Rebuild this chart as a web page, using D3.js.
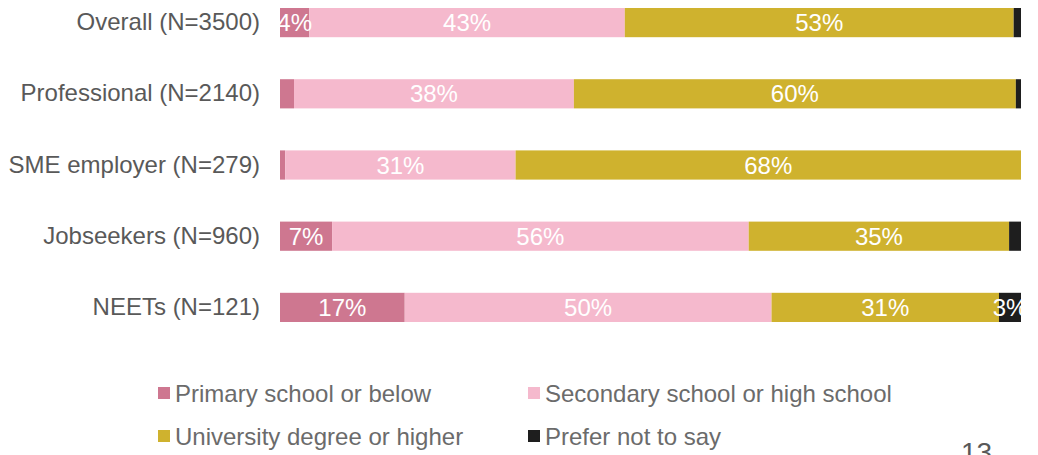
<!DOCTYPE html>
<html>
<head>
<meta charset="utf-8">
<script src="https://cdn.jsdelivr.net/npm/d3@7/dist/d3.min.js"></script>
<style>
  html, body { margin: 0; padding: 0; background: #fff; overflow: hidden; }
  svg { display: block; font-family: "Liberation Sans", Arial, sans-serif; }
</style>
</head>
<body>
<svg id="chart" width="1038" height="455"></svg>
<script>
// Education level by respondent group (share of each group, %)
const groups = ["Overall (N=3500)", "Professional (N=2140)", "SME employer (N=279)", "Jobseekers (N=960)", "NEETs (N=121)"];
const levels = ["Primary school or below", "Secondary school or high school", "University degree or higher", "Prefer not to say"];
const primary   = [4, 1.9, 0.7, 7, 17];
const secondary = [43, 38, 31, 56, 50];
const university = [53, 60, 68, 35, 31];
const preferNot = [1, 0.7, 0, 1.6, 3];
const colors = ["#CE7790", "#F5B9CD", "#CFB22E", "#1E1E1E"];

const rows = groups.map((g, i) => ({
  group: g,
  [levels[0]]: primary[i],
  [levels[1]]: secondary[i],
  [levels[2]]: university[i],
  [levels[3]]: preferNot[i]
}));

const svg = d3.select("#chart");
const margin = { left: 280, right: 17 };
const W = 1038;

const x = d3.scaleLinear().domain([0, 1]).range([margin.left, W - margin.right]);
const y = d3.scaleBand().domain(groups).range([-13, 343]).paddingInner(0.59).paddingOuter(0.295);

const color = d3.scaleOrdinal().domain(levels).range(colors);

const stacked = d3.stack().keys(levels).offset(d3.stackOffsetExpand)(rows);

// keep segment labels inside the plotting area
svg.append("defs").append("clipPath").attr("id", "plot-clip")
  .append("rect")
  .attr("x", x(0)).attr("y", 0)
  .attr("width", x(1) - x(0)).attr("height", 360);

const layer = svg.append("g").selectAll("g")
  .data(stacked).join("g")
  .attr("fill", d => color(d.key));

layer.selectAll("rect")
  .data(d => d.map(p => ({ p, key: d.key })))
  .join("rect")
  .attr("x", d => x(d.p[0]))
  .attr("y", d => y(d.p.data.group))
  .attr("width", d => Math.max(0, x(d.p[1]) - x(d.p[0])))
  .attr("height", y.bandwidth());

// value labels for segments of 3% or more
const labels = svg.append("g").attr("clip-path", "url(#plot-clip)");
stacked.forEach(series => {
  labels.selectAll(null)
    .data(series.filter(p => p.data[series.key] >= 3))
    .join("text")
    .attr("x", p => (x(p[0]) + x(p[1])) / 2)
    .attr("y", p => y(p.data.group) + y.bandwidth() / 2)
    .attr("dy", "0.36em")
    .attr("text-anchor", "middle")
    .attr("fill", "#fff")
    .attr("font-size", 24)
    .text(p => d3.format(".0f")(p.data[series.key]) + "%");
});

// category axis
const yAxis = d3.axisLeft(y).tickSize(0).tickPadding(20);
svg.append("g")
  .attr("transform", `translate(${margin.left},0)`)
  .call(yAxis)
  .call(g => g.select(".domain").remove())
  .call(g => g.selectAll("text")
    .attr("font-size", 24)
    .attr("font-family", "'Liberation Sans', Arial, sans-serif")
    .attr("fill", "#595959"));

// legend
const legendPos = [[158, 393], [528, 393], [158, 436], [528, 436]];
const legend = svg.append("g").selectAll("g")
  .data(levels).join("g")
  .attr("transform", (d, i) => `translate(${legendPos[i][0]},${legendPos[i][1]})`);
legend.append("rect")
  .attr("x", 0).attr("y", -6).attr("width", 12).attr("height", 12)
  .attr("fill", d => color(d));
legend.append("text")
  .attr("x", 17).attr("dy", "0.36em")
  .attr("font-size", 24)
  .attr("fill", "#6B6B6B")
  .text(d => d);

// page number
svg.append("text")
  .attr("x", 961).attr("y", 462)
  .attr("font-size", 28)
  .attr("fill", "#595959")
  .text("13");
</script>
</body>
</html>
